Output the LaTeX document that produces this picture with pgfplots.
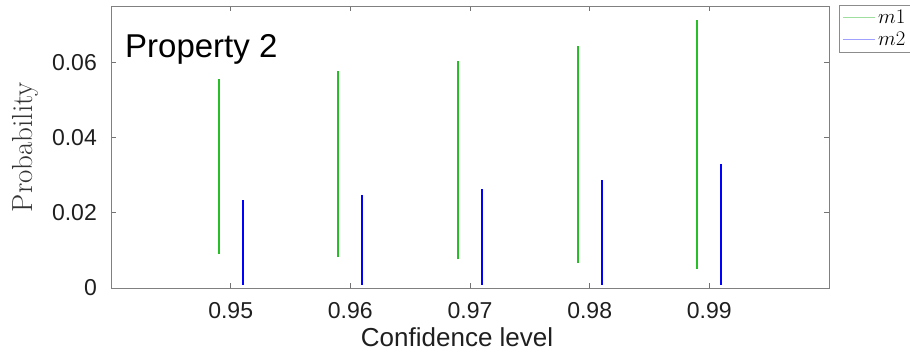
\documentclass[border=0pt]{standalone}
\usepackage{pgfplots}
\pgfplotsset{compat=1.18}
\usepackage{fontspec}
\newfontfamily\arial{Liberation Sans}
\definecolor{mgreen}{RGB}{40,190,40}
\definecolor{mblue}{RGB}{0,0,255}
\definecolor{lgreen}{RGB}{160,222,160}
\definecolor{lblue}{RGB}{160,160,255}
\begin{document}
\begin{tikzpicture}[x=1pt,y=1pt]
\useasboundingbox (0,0) rectangle (910,353);
\begin{axis}[
  at={(111pt,65pt)}, anchor=south west,
  scale only axis, width=718pt, height=282pt,
  xmin=0.94, xmax=1.0, ymin=0, ymax=0.075,
  scaled y ticks=false, scaled x ticks=false,
  xtick={0.95,0.96,0.97,0.98,0.99},
  xticklabels={0.95,0.96,0.97,0.98,0.99},
  ytick={0,0.02,0.04,0.06},
  yticklabels={0,0.02,0.04,0.06},
  tick align=inside,
  major tick length=5pt,
  tick style={black!55, line width=0.6pt},
  axis line style={black!50, line width=0.8pt},
  xticklabel style={font=\arial\fontsize{23}{27}\selectfont, text=black!88, anchor=base, inner sep=0pt, yshift=-31pt},
  yticklabel style={font=\arial\fontsize{23}{27}\selectfont, text=black!88, anchor=east, inner sep=0pt, xshift=-14pt},
  xlabel={Confidence level},
  ylabel={Probability},
  x label style={at={(axis description cs:0.482,-0.2092)}, anchor=base, inner sep=0pt, font=\arial\fontsize{26}{30}\selectfont, text=black!88},
  y label style={at={(axis description cs:-0.1198,0.5)}, anchor=center, inner sep=0pt, font=\fontsize{29}{34}\selectfont, text=black!80},
  legend style={at={(axis description cs:1,1)}, anchor=north west, xshift=10pt, yshift=1pt, draw=black!45, fill=white, font=\fontsize{20}{24}\selectfont, inner xsep=3pt, inner ysep=3pt, row sep=3pt},
  legend cell align=left,
  legend image post style={xscale=1.9},
  unbounded coords=jump,
]
\addlegendimage{lgreen, line width=1.4pt}
\addlegendentry{$m1$}
\addlegendimage{lblue, line width=1.4pt}
\addlegendentry{$m2$}
\addplot[color=mgreen, line width=1.8pt, forget plot] coordinates {
  (0.949,0.0090) (0.949,0.0555) (0.949,nan)
  (0.959,0.0083) (0.959,0.0576) (0.959,nan)
  (0.969,0.0076) (0.969,0.0603) (0.969,nan)
  (0.979,0.0066) (0.979,0.0643) (0.979,nan)
  (0.989,0.0050) (0.989,0.0714)
};
\addplot[color=mblue, line width=2.2pt, forget plot] coordinates {
  (0.951,0.0008) (0.951,0.0234) (0.951,nan)
  (0.961,0.0008) (0.961,0.0247) (0.961,nan)
  (0.971,0.0008) (0.971,0.0263) (0.971,nan)
  (0.981,0.0008) (0.981,0.0286) (0.981,nan)
  (0.991,0.0008) (0.991,0.0329)
};
\node[anchor=base west, inner sep=0pt, font=\arial\fontsize{33}{39}\selectfont] at (axis description cs:0.0195,0.819) {Property 2};
\end{axis}
\end{tikzpicture}
\end{document}
